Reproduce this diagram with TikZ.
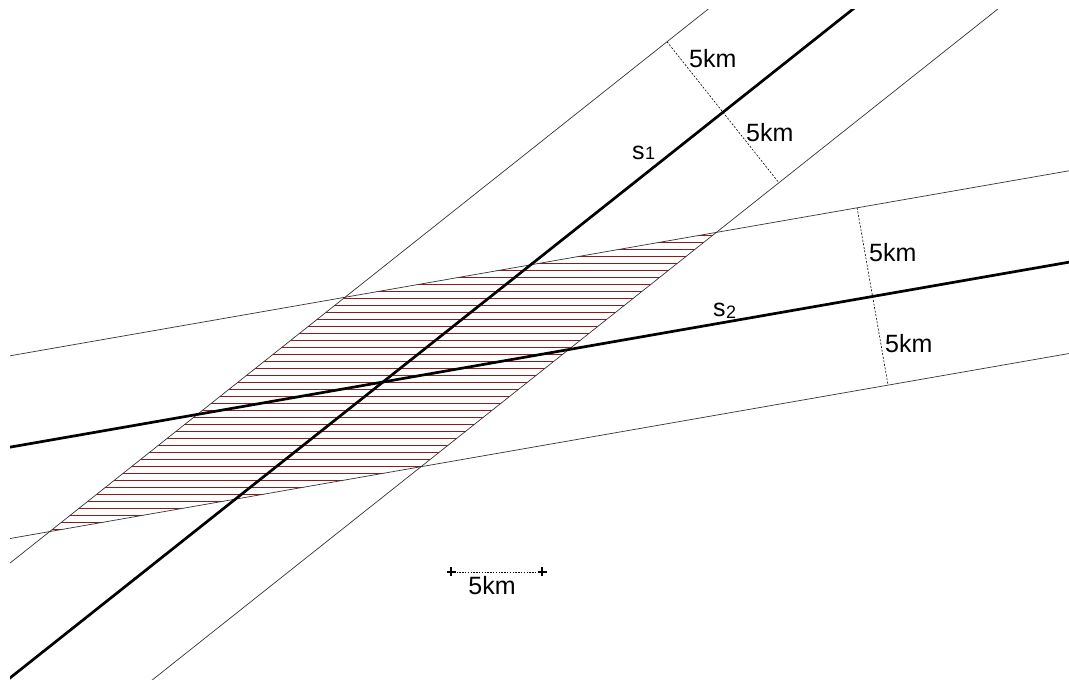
\documentclass[tikz,border=0pt]{standalone}
\usepackage{fontspec}
\setmainfont{Liberation Sans}
\usetikzlibrary{calc}
\definecolor{hatchc}{HTML}{8E1A1A}
\definecolor{bandc}{HTML}{333333}
\tikzset{
  road/.style={line width=2.7pt, draw=black},
  band/.style={line width=0.7pt, draw=bandc},
  gap/.style={line width=0.6pt, draw=black, dash pattern=on 2pt off 1.6pt},
  barline/.style={line width=0.7pt, draw=black, dash pattern=on 1.4pt off 1.4pt},
  hatch/.style={line width=1pt, draw=hatchc},
  kmlabel/.style={font=\fontsize{25}{30}\selectfont, inner sep=0pt, anchor=west},
  roadlabel/.style={font=\fontsize{25}{30}\selectfont, inner sep=0pt, anchor=base west},
  tick/.style={line width=1.3pt},
}
\def\aS{38.43}
\def\aT{9.91}
\def\wid{90}
\def\far{1300}
\newcommand{\tickmark}[1]{%
  \draw[tick] ([xshift=-4.5pt]#1) -- ([xshift=4.5pt]#1) ([yshift=-4.5pt]#1) -- ([yshift=4.5pt]#1);}
\newcommand{\sub}[2]{s\kern0.5pt\raisebox{#2}{\fontsize{18}{18}\selectfont #1}}

\begin{document}
\begin{tikzpicture}[x=1pt,y=1pt]
  \useasboundingbox (0,0) rectangle (1069,680);
  \coordinate (O) at (383,298);
  \coordinate (sA) at ($(O)+(\aS+180:\far)$);
  \coordinate (sB) at ($(O)+(\aS:\far)$);
  \coordinate (tA) at ($(O)+(\aT+180:\far)$);
  \coordinate (tB) at ($(O)+(\aT:\far)$);
  \coordinate (uSA) at ($(sA)+(\aS+90:\wid)$); \coordinate (uSB) at ($(sB)+(\aS+90:\wid)$);
  \coordinate (lSA) at ($(sA)+(\aS-90:\wid)$); \coordinate (lSB) at ($(sB)+(\aS-90:\wid)$);
  \coordinate (uTA) at ($(tA)+(\aT+90:\wid)$); \coordinate (uTB) at ($(tB)+(\aT+90:\wid)$);
  \coordinate (lTA) at ($(tA)+(\aT-90:\wid)$); \coordinate (lTB) at ($(tB)+(\aT-90:\wid)$);
  \coordinate (h1) at (intersection of uSA--uSB and uTA--uTB);
  \coordinate (h2) at (intersection of lSA--lSB and uTA--uTB);
  \coordinate (h3) at (intersection of lSA--lSB and lTA--lTB);
  \coordinate (h4) at (intersection of uSA--uSB and lTA--lTB);
  \begin{scope}
    \clip (h1) -- (h2) -- (h3) -- (h4) -- cycle;
    \foreach \y in {150.5,157.5,...,452} \draw[hatch] (0,\y) -- (1069,\y);
  \end{scope}
  \begin{scope}
    \clip (10,0) rectangle (1069,670);
    \draw[band] (uSA) -- (uSB); \draw[band] (lSA) -- (lSB);
    \draw[band] (uTA) -- (uTB); \draw[band] (lTA) -- (lTB);
    \draw[road] (sA) -- (sB);
    \draw[road] (tA) -- (tB);
  \end{scope}
  \coordinate (mS) at ($(O)+(\aS:434)$);
  \coordinate (mT) at ($(O)+(\aT:497)$);
  \draw[gap] ($(mS)+(\aS+90:\wid)$) coordinate (mSu) -- (mS) -- ($(mS)+(\aS-90:\wid)$) coordinate (mSd);
  \draw[gap] ($(mT)+(\aT+90:\wid)$) coordinate (mTu) -- (mT) -- ($(mT)+(\aT-90:\wid)$) coordinate (mTd);
  \node[kmlabel] (kSu) at (689,621) {5km};
  \node[kmlabel] (kSd) at (746,547.5) {5km};
  \node[kmlabel] (kTu) at (869,427.5) {5km};
  \node[kmlabel] (kTd) at (885,336) {5km};
  \node[roadlabel] (nS) at (632,520) {\sub{1}{0pt}};
  \node[roadlabel] (nT) at (713,363) {\sub{2}{-2pt}};
  \coordinate (bar1) at (451,108);
  \coordinate (bar2) at (542,108);
  \draw[barline] (bar1) -- (bar2);
  \tickmark{bar1} \tickmark{bar2}
  \node[kmlabel, anchor=center] (kBar) at (492,94) {5km};
\end{tikzpicture}
\end{document}
